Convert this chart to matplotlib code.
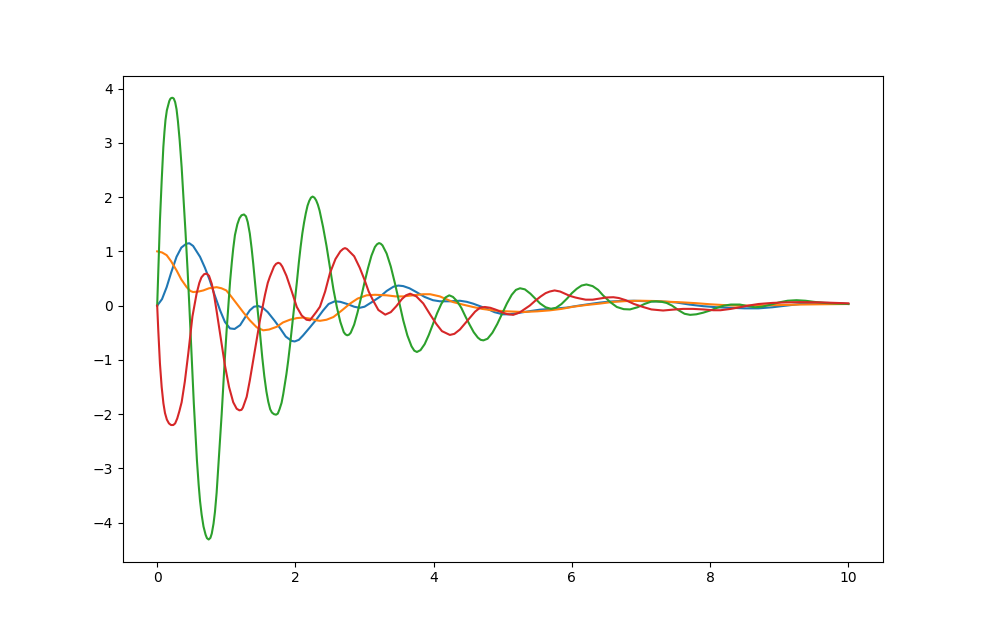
import matplotlib
matplotlib.use("Agg")
import matplotlib.pyplot as plt

# values
blue_x = [0, 0.07, 0.137, 0.2, 0.28, 0.35, 0.42, 0.465, 0.52, 0.57, 0.62, 0.69, 0.76, 0.83,
          0.91, 0.98, 1.053, 1.12, 1.2, 1.27, 1.34, 1.4, 1.463, 1.53, 1.6, 1.7, 1.78, 1.86,
          1.945, 1.99, 2.05, 2.11, 2.21, 2.307, 2.4, 2.48, 2.57, 2.65, 2.75, 2.85, 2.93, 3.0,
          3.1, 3.22, 3.32, 3.42, 3.49, 3.56, 3.65, 3.75, 3.87, 3.99, 4.09, 4.24, 4.38, 4.48,
          4.57, 4.67, 4.77, 4.88, 5.0, 5.1, 5.25, 5.4, 5.54, 5.7, 5.92, 6.1, 6.26, 6.4, 6.55,
          6.7, 6.9, 7.1, 7.3, 7.5, 7.7, 7.9, 8.1, 8.3, 8.5, 8.7, 8.9, 9.1, 9.3, 9.5, 9.7, 9.85, 10]
blue_y = [0, 0.12, 0.34, 0.6, 0.9, 1.07, 1.14, 1.15, 1.1, 1.0, 0.9, 0.7, 0.47, 0.2,
          -0.087, -0.3, -0.42, -0.43, -0.36, -0.22, -0.087, -0.02, -0.007, -0.04, -0.12, -0.28, -0.42, -0.57,
          -0.65, -0.66, -0.63, -0.55, -0.4, -0.25, -0.09, 0.03, 0.08, 0.07, 0.03, -0.02, -0.04, -0.02,
          0.06, 0.16, 0.27, 0.35, 0.37, 0.36, 0.32, 0.25, 0.16, 0.1, 0.08, 0.08, 0.09, 0.07,
          0.037, -0.01, -0.056, -0.12, -0.16, -0.16, -0.13, -0.1, -0.074, -0.06, -0.037, 0.0, 0.03, 0.055, 0.075,
          0.085, 0.09, 0.08, 0.075, 0.06, 0.02, -0.01, -0.03, -0.04, -0.05, -0.05, -0.03, 0.0, 0.03, 0.05, 0.05, 0.04, 0.03]

orange_x = [0, 0.07, 0.137, 0.2, 0.28, 0.35, 0.427, 0.48, 0.52, 0.6, 0.667, 0.75, 0.86, 0.93,
            1.0, 1.07, 1.15, 1.25, 1.34, 1.44, 1.535, 1.62, 1.73, 1.82, 1.92, 2.02, 2.11, 2.21,
            2.3, 2.355, 2.45, 2.55, 2.67, 2.79, 2.9, 3.03, 3.15, 3.32, 3.45, 3.56, 3.7, 3.85,
            3.95, 4.09, 4.18, 4.28, 4.42, 4.57, 4.7, 4.86, 5.05, 5.3, 5.5, 5.68, 5.85, 6.02,
            6.2, 6.4, 6.6, 6.8, 7.0, 7.2, 7.42, 7.6, 7.8, 8.0, 8.2, 8.4, 8.6, 8.8, 9.0, 9.3, 9.6, 10]
orange_y = [1.0, 0.98, 0.93, 0.82, 0.65, 0.48, 0.34, 0.27, 0.25, 0.26, 0.28, 0.32, 0.34, 0.32,
            0.28, 0.17, 0.037, -0.13, -0.27, -0.4, -0.455, -0.44, -0.39, -0.31, -0.26, -0.23, -0.22, -0.24,
            -0.27, -0.28, -0.26, -0.21, -0.09, 0.037, 0.13, 0.19, 0.2, 0.19, 0.17, 0.17, 0.19, 0.21,
            0.21, 0.17, 0.12, 0.066, 0.02, -0.025, -0.06, -0.087, -0.105, -0.117, -0.105, -0.087, -0.06, -0.02,
            0.01, 0.037, 0.07, 0.085, 0.09, 0.085, 0.07, 0.06, 0.045, 0.025, 0.01, 0.0, 0.0, 0.005, 0.01, 0.02, 0.025, 0.03]

green_x = [0, 0.02, 0.04, 0.065, 0.089, 0.105, 0.12, 0.14, 0.16, 0.175, 0.19, 0.205, 0.224, 0.24,
           0.26, 0.28, 0.3, 0.325, 0.354, 0.38, 0.41, 0.44, 0.465,
           0.49, 0.51, 0.53, 0.547, 0.575, 0.6, 0.62, 0.643, 0.67, 0.7, 0.72, 0.745, 0.77, 0.79, 0.815,
           0.836, 0.86, 0.88, 0.905, 0.933, 0.955, 0.98, 1.005, 1.03, 1.055, 1.08, 1.1, 1.125,
           1.16, 1.19, 1.22, 1.256, 1.285, 1.31, 1.34, 1.367, 1.39, 1.42, 1.455, 1.487, 1.52, 1.55,
           1.58, 1.607, 1.635, 1.66, 1.69, 1.72, 1.745, 1.77, 1.8, 1.824, 1.845, 1.87, 1.895, 1.92,
           1.95, 1.985, 2.02, 2.05, 2.075, 2.1, 2.125, 2.15, 2.175, 2.2, 2.225, 2.249, 2.275, 2.3, 2.325,
           2.35, 2.4, 2.45, 2.5, 2.55, 2.6, 2.65, 2.7, 2.725, 2.75,
           2.775, 2.8, 2.85, 2.9, 2.95, 3.0, 3.05, 3.1, 3.15, 3.18, 3.21, 3.235, 3.26, 3.32, 3.38, 3.44, 3.5, 3.56, 3.62,
           3.68, 3.72, 3.758, 3.81, 3.87, 3.93, 3.99, 4.05, 4.11, 4.17, 4.226, 4.28, 4.34, 4.4, 4.46, 4.52,
           4.58, 4.64, 4.68, 4.72, 4.78, 4.85, 4.92, 4.99, 5.06, 5.13, 5.19, 5.25, 5.32, 5.4, 5.47, 5.54,
           5.62, 5.7, 5.77, 5.85, 5.93, 6.0, 6.07, 6.14, 6.21, 6.3, 6.38, 6.45, 6.55, 6.65, 6.75,
           6.84, 6.95, 7.05, 7.15, 7.22, 7.3, 7.37, 7.45, 7.55, 7.63, 7.71, 7.8, 7.9, 8.0, 8.1, 8.2,
           8.3, 8.43, 8.55, 8.65, 8.75, 8.85, 9.0, 9.12, 9.25, 9.38, 9.5, 9.65, 9.8, 10]
green_y = [0, 0.8, 1.57, 2.3, 2.92, 3.2, 3.42, 3.6, 3.7, 3.77, 3.81, 3.827, 3.83, 3.815,
           3.75, 3.62, 3.4, 3.05, 2.55, 2.0, 1.35, 0.65, 0.0,
           -0.7, -1.25, -1.8, -2.2, -2.85, -3.3, -3.6, -3.85, -4.07, -4.22, -4.285, -4.31, -4.28, -4.2, -4.02,
           -3.8, -3.45, -3.05, -2.55, -2.0, -1.5, -0.95, -0.45, 0.0, 0.45, 0.8, 1.05, 1.3,
           1.5, 1.61, 1.665, 1.68, 1.645, 1.54, 1.33, 1.05, 0.77, 0.37, -0.1, -0.5, -0.95, -1.3,
           -1.58, -1.77, -1.91, -1.97, -2.0, -2.01, -1.99, -1.91, -1.79, -1.63, -1.46, -1.26, -1.02, -0.75,
           -0.4, 0.0, 0.42, 0.8, 1.08, 1.33, 1.53, 1.7, 1.84, 1.93, 1.99, 2.01, 1.99, 1.94, 1.86,
           1.75, 1.45, 1.1, 0.7, 0.3, -0.03, -0.3, -0.49, -0.53, -0.547,
           -0.535, -0.5, -0.35, -0.12, 0.15, 0.43, 0.69, 0.92, 1.08, 1.13, 1.153, 1.14, 1.11, 0.96, 0.72, 0.41, 0.07, -0.27, -0.55,
           -0.75, -0.83, -0.854, -0.82, -0.71, -0.54, -0.34, -0.14, 0.03, 0.15, 0.19, 0.16, 0.08, -0.04, -0.2, -0.35,
           -0.49, -0.59, -0.63, -0.64, -0.61, -0.5, -0.34, -0.15, 0.04, 0.2, 0.29, 0.32, 0.3, 0.22, 0.13, 0.04,
           -0.03, -0.06, -0.04, 0.03, 0.13, 0.23, 0.31, 0.37, 0.39, 0.36, 0.29, 0.19, 0.07, -0.025, -0.065,
           -0.07, -0.03, 0.03, 0.075, 0.08, 0.07, 0.05, 0.0, -0.09, -0.15, -0.17, -0.16, -0.13, -0.09, -0.04, 0.0,
           0.02, 0.02, -0.01, -0.03, -0.02, 0.01, 0.06, 0.09, 0.1, 0.09, 0.07, 0.05, 0.04, 0.03]

red_x = [0, 0.016, 0.04, 0.065, 0.09, 0.113, 0.14, 0.17, 0.2, 0.233, 0.26, 0.29, 0.32, 0.354, 0.4, 0.45,
         0.51, 0.57, 0.61, 0.64, 0.68, 0.716, 0.75, 0.79, 0.825, 0.86, 0.92, 0.98, 1.04, 1.1, 1.15,
         1.19, 1.22, 1.24, 1.295, 1.34, 1.39, 1.44, 1.487, 1.56, 1.6, 1.63, 1.69, 1.72, 1.752, 1.78,
         1.81, 1.87, 1.95, 2.02, 2.09, 2.16, 2.21, 2.3, 2.355, 2.43, 2.5,
         2.58, 2.65, 2.69, 2.717, 2.745, 2.78, 2.85, 2.93, 3.0, 3.06, 3.126, 3.2, 3.3, 3.38, 3.46, 3.54, 3.6, 3.66,
         3.75, 3.85, 3.95, 4.04, 4.12, 4.235, 4.3, 4.38, 4.46, 4.54, 4.6, 4.67, 4.74, 4.82, 4.9,
         4.98, 5.06, 5.15, 5.24, 5.32, 5.39, 5.47, 5.55, 5.62, 5.68, 5.75, 5.83, 5.9, 5.97, 6.05,
         6.12, 6.2, 6.3, 6.4, 6.5, 6.6, 6.68, 6.78, 6.9, 7.03, 7.15, 7.32, 7.45, 7.61, 7.75, 7.9,
         8.05, 8.15, 8.3, 8.43, 8.55, 8.7, 8.9, 9.1, 9.3, 9.59, 9.8, 10]
red_y = [0, -0.46, -1.07, -1.5, -1.8, -1.98, -2.1, -2.17, -2.2, -2.2, -2.17, -2.08, -1.95, -1.78, -1.4, -0.88,
         -0.2, 0.22, 0.42, 0.52, 0.58, 0.59, 0.55, 0.4, 0.18, -0.1, -0.6, -1.1, -1.5, -1.78, -1.9,
         -1.93, -1.92, -1.88, -1.68, -1.38, -1.0, -0.62, -0.27, 0.2, 0.42, 0.53, 0.72, 0.77, 0.79, 0.775,
         0.72, 0.55, 0.25, -0.025, -0.18, -0.26, -0.27, -0.12, -0.02, 0.26, 0.6,
         0.86, 1.0, 1.045, 1.06, 1.045, 1.0, 0.91, 0.7, 0.475, 0.26, 0.09, -0.08, -0.166, -0.12, -0.01, 0.12, 0.19, 0.22,
         0.17, 0.04, -0.165, -0.34, -0.47, -0.54, -0.52, -0.44, -0.32, -0.2, -0.11, -0.04, -0.025, -0.04, -0.075,
         -0.12, -0.155, -0.17, -0.13, -0.06, 0.0, 0.09, 0.17, 0.23, 0.26, 0.28, 0.26, 0.22, 0.18, 0.15,
         0.13, 0.11, 0.11, 0.13, 0.15, 0.155, 0.14, 0.1, 0.03, -0.025, -0.07, -0.09, -0.075, -0.06, -0.06, -0.07,
         -0.085, -0.085, -0.06, -0.03, 0.0, 0.03, 0.05, 0.06, 0.065, 0.06, 0.05, 0.042]

fig, ax = plt.subplots(figsize=(9.81, 6.31), dpi=100)
ax.plot(blue_x, blue_y, color="tab:blue")
ax.plot(orange_x, orange_y, color="tab:orange")
ax.plot(green_x, green_y, color="tab:green")
ax.plot(red_x, red_y, color="tab:red")
fig.savefig("out.png", dpi=100)
